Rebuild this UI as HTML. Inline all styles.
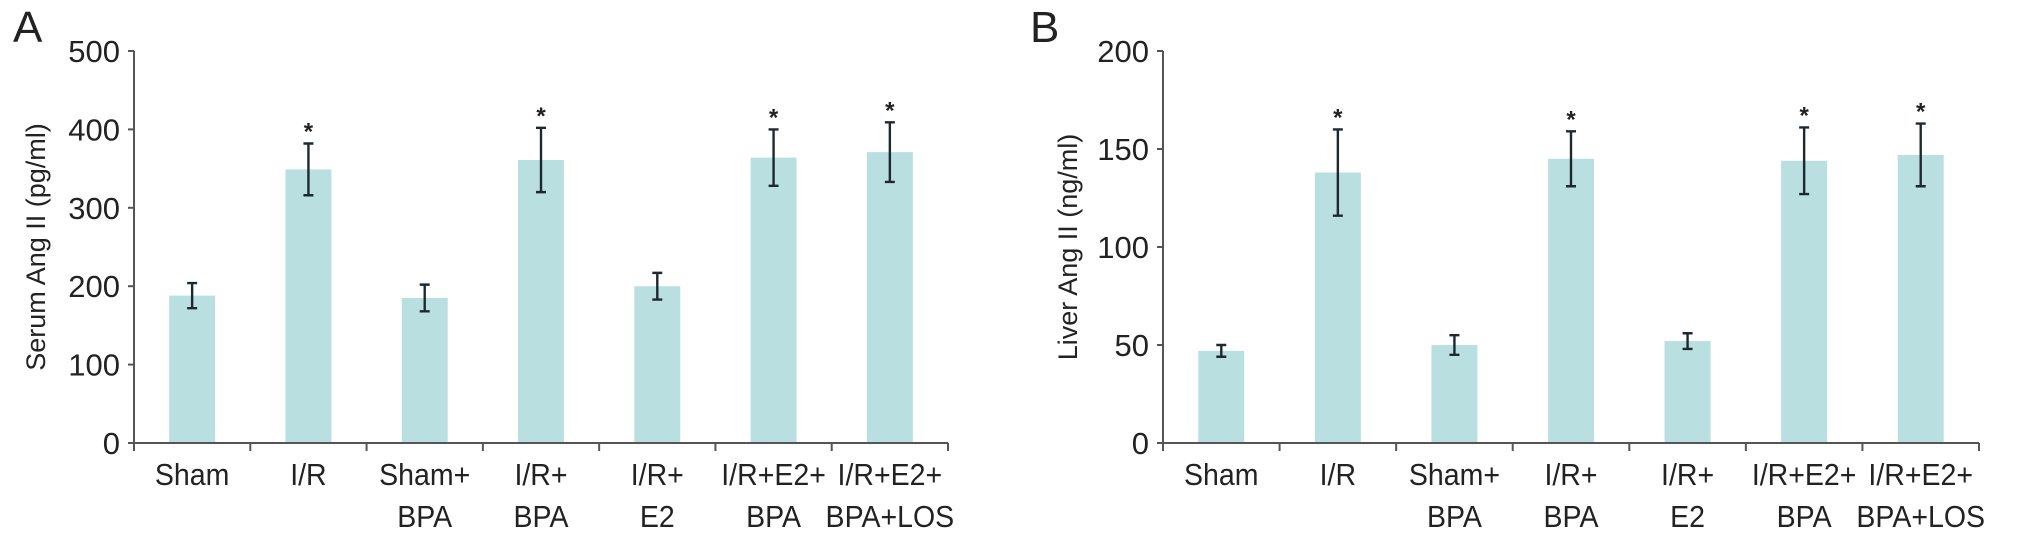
<!DOCTYPE html>
<html><head><meta charset="utf-8"><style>
body{margin:0;background:#fff}
svg text{font-family:"Liberation Sans",Arial,sans-serif;fill:#222}
</style></head><body>
<svg id="c" width="2031" height="539" xmlns="http://www.w3.org/2000/svg"></svg>
<script>
const categories=[["Sham"],["I/R"],["Sham+","BPA"],["I/R+","BPA"],["I/R+","E2"],["I/R+E2+","BPA"],["I/R+E2+","BPA+LOS"]];
const serumValues=[188,349,185,361,200,364,371];
const serumErrors=[16,33,17,41,17,36,38];
const serumSig=[0,1,0,1,0,1,1];
const liverValues=[47,138,50,145,52,144,147];
const liverErrors=[3,22,5,14,4,17,16];
const liverSig=[0,1,0,1,0,1,1];
const serumTicks=[0,100,200,300,400,500];
const liverTicks=[0,50,100,150,200];
const NS="http://www.w3.org/2000/svg";
const svg=document.getElementById('c');
function el(t,a,p){const e=document.createElementNS(NS,t);for(const k in a)e.setAttribute(k,a[k]);(p||svg).appendChild(e);return e;}
function panel(key,letter,lx,x0,x1,y0,y1,max,ticks,vals,errs,sig,title,tx){
  const g=el('g',{});
  
  
  const y=v=>y0-(v/max)*(y0-y1);
  const n=categories.length,w=(x1-x0)/n;
  const xc=i=>x0+w*(i+0.5);
  const L=el('text',{x:lx,y:42,'font-size':44},g);L.textContent=letter;
  
  vals.forEach((v,i)=>{
    const b=el('rect',{x:xc(i)-23,y:y(v),width:46,height:y0-y(v),fill:'#b9dfe0'},g);
    
    const e=el('path',{d:`M${xc(i)},${y(v+errs[i])}V${y(v-errs[i])}M${xc(i)-5},${y(v+errs[i])}H${xc(i)+5}M${xc(i)-5},${y(v-errs[i])}H${xc(i)+5}`,stroke:'#1c2a30','stroke-width':2.4,fill:'none'},g);
    
    if(sig[i]){const s=el('text',{x:xc(i),y:y(v+errs[i])-4,'text-anchor':'middle','font-size':24,'font-weight':'bold'},g);s.textContent='*';
      }
  });
  const ax=el('path',{d:`M${x0},${y1}V${y0}H${x1}`,stroke:'#555','stroke-width':2,fill:'none'},g);
  
  ticks.forEach(t=>{
    el('line',{x1:x0-6,x2:x0,y1:y(t),y2:y(t),stroke:'#555','stroke-width':2},g);
    const tl=el('text',{x:x0-14,y:y(t)+11,'text-anchor':'end','font-size':31},g);
    tl.textContent=t;
  });
  for(let i=0;i<=n;i++)el('line',{x1:x0+w*i,x2:x0+w*i,y1:y0,y2:y0+8,stroke:'#555','stroke-width':2},g);
  categories.forEach((c,i)=>{c.forEach((s,j)=>{
    const t=el('text',{x:xc(i)/0.92,y:485+j*42,'text-anchor':'middle','font-size':31,transform:'scale(0.92,1)'},g);
    t.textContent=s;
  });});
  const yt=el('text',{x:0,y:0,'text-anchor':'middle','font-size':27,transform:`translate(${tx},247) rotate(-90)`},g);
  yt.textContent=title;
}
panel('serum','A',13,134,948,443,51,500,serumTicks,serumValues,serumErrors,serumSig,'Serum Ang II (pg/ml)',45);
panel('liver','B',1030,1163,1979,443,51,200,liverTicks,liverValues,liverErrors,liverSig,'Liver Ang II (ng/ml)',1077);
</script>
</body></html>
